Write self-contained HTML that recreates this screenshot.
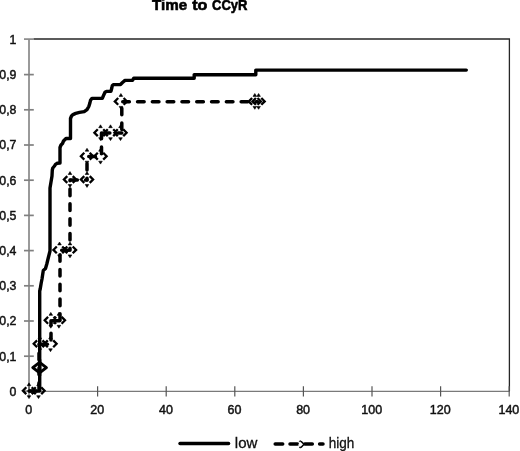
<!DOCTYPE html>
<html><head><meta charset="utf-8"><title>Time to CCyR</title>
<style>
html,body{margin:0;padding:0;background:#fff;}
body{width:520px;height:451px;overflow:hidden;font-family:"Liberation Sans",sans-serif;}
svg{display:block;filter:grayscale(100%);}
</style></head>
<body>
<svg width="520" height="451" viewBox="0 0 520 451">
<rect width="520" height="451" fill="#fff"/>
<text x="152.00" y="10.1" font-family="Liberation Sans" font-weight="bold" font-size="15.4" fill="#000" stroke="#000" stroke-width="0.6" textLength="35.20" lengthAdjust="spacingAndGlyphs">Time</text>
<text x="192.20" y="10.1" font-family="Liberation Sans" font-weight="bold" font-size="15.4" fill="#000" stroke="#000" stroke-width="0.6" textLength="15.20" lengthAdjust="spacingAndGlyphs">to</text>
<text x="212.00" y="10.1" font-family="Liberation Sans" font-weight="bold" font-size="15.4" fill="#000" stroke="#000" stroke-width="0.6" textLength="35.50" lengthAdjust="spacingAndGlyphs">CCyR</text>
<path d="M33.5,39 H509.4 V391.4" fill="none" stroke="#262626" stroke-width="1.3"/>
<line x1="29" y1="39" x2="29" y2="391.4" stroke="#9a9a9a" stroke-width="2"/>
<line x1="28" y1="391.4" x2="509.4" y2="391.4" stroke="#7a7a7a" stroke-width="1.4"/>
<line x1="24" y1="391.1" x2="33.8" y2="391.1" stroke="#808080" stroke-width="1.7"/>
<line x1="24" y1="356.2" x2="33.8" y2="356.2" stroke="#808080" stroke-width="1.7"/>
<line x1="24" y1="321.0" x2="33.8" y2="321.0" stroke="#808080" stroke-width="1.7"/>
<line x1="24" y1="285.8" x2="33.8" y2="285.8" stroke="#808080" stroke-width="1.7"/>
<line x1="24" y1="250.6" x2="33.8" y2="250.6" stroke="#808080" stroke-width="1.7"/>
<line x1="24" y1="215.4" x2="33.8" y2="215.4" stroke="#808080" stroke-width="1.7"/>
<line x1="24" y1="180.2" x2="33.8" y2="180.2" stroke="#808080" stroke-width="1.7"/>
<line x1="24" y1="145.0" x2="33.8" y2="145.0" stroke="#808080" stroke-width="1.7"/>
<line x1="24" y1="109.8" x2="33.8" y2="109.8" stroke="#808080" stroke-width="1.7"/>
<line x1="24" y1="74.6" x2="33.8" y2="74.6" stroke="#808080" stroke-width="1.7"/>
<line x1="24" y1="39.1" x2="33.8" y2="39.1" stroke="#8a8a8a" stroke-width="1.7"/>
<line x1="29.0" y1="386.2" x2="29.0" y2="396.4" stroke="#555" stroke-width="1.2"/>
<line x1="97.6" y1="386.2" x2="97.6" y2="396.4" stroke="#555" stroke-width="1.2"/>
<line x1="166.2" y1="386.2" x2="166.2" y2="396.4" stroke="#555" stroke-width="1.2"/>
<line x1="234.8" y1="386.2" x2="234.8" y2="396.4" stroke="#555" stroke-width="1.2"/>
<line x1="303.4" y1="386.2" x2="303.4" y2="396.4" stroke="#555" stroke-width="1.2"/>
<line x1="372.0" y1="386.2" x2="372.0" y2="396.4" stroke="#555" stroke-width="1.2"/>
<line x1="440.6" y1="386.2" x2="440.6" y2="396.4" stroke="#555" stroke-width="1.2"/>
<line x1="509.2" y1="386.2" x2="509.2" y2="396.4" stroke="#555" stroke-width="1.2"/>
<text x="16.4" y="395.7" text-anchor="end" font-family="Liberation Sans" font-size="12.3" fill="#111" stroke="#111" stroke-width="0.45">0</text>
<text x="16.4" y="360.5" text-anchor="end" font-family="Liberation Sans" font-size="12.3" fill="#111" stroke="#111" stroke-width="0.45">0,1</text>
<text x="16.4" y="325.3" text-anchor="end" font-family="Liberation Sans" font-size="12.3" fill="#111" stroke="#111" stroke-width="0.45">0,2</text>
<text x="16.4" y="290.1" text-anchor="end" font-family="Liberation Sans" font-size="12.3" fill="#111" stroke="#111" stroke-width="0.45">0,3</text>
<text x="16.4" y="254.9" text-anchor="end" font-family="Liberation Sans" font-size="12.3" fill="#111" stroke="#111" stroke-width="0.45">0,4</text>
<text x="16.4" y="219.7" text-anchor="end" font-family="Liberation Sans" font-size="12.3" fill="#111" stroke="#111" stroke-width="0.45">0,5</text>
<text x="16.4" y="184.5" text-anchor="end" font-family="Liberation Sans" font-size="12.3" fill="#111" stroke="#111" stroke-width="0.45">0,6</text>
<text x="16.4" y="149.3" text-anchor="end" font-family="Liberation Sans" font-size="12.3" fill="#111" stroke="#111" stroke-width="0.45">0,7</text>
<text x="16.4" y="114.1" text-anchor="end" font-family="Liberation Sans" font-size="12.3" fill="#111" stroke="#111" stroke-width="0.45">0,8</text>
<text x="16.4" y="78.9" text-anchor="end" font-family="Liberation Sans" font-size="12.3" fill="#111" stroke="#111" stroke-width="0.45">0,9</text>
<text x="16.4" y="43.7" text-anchor="end" font-family="Liberation Sans" font-size="12.3" fill="#111" stroke="#111" stroke-width="0.45">1</text>
<text x="28.7" y="413.6" text-anchor="middle" font-family="Liberation Sans" font-size="12.5" fill="#111" stroke="#111" stroke-width="0.45">0</text>
<text x="97.3" y="413.6" text-anchor="middle" font-family="Liberation Sans" font-size="12.5" fill="#111" stroke="#111" stroke-width="0.45">20</text>
<text x="165.9" y="413.6" text-anchor="middle" font-family="Liberation Sans" font-size="12.5" fill="#111" stroke="#111" stroke-width="0.45">40</text>
<text x="234.5" y="413.6" text-anchor="middle" font-family="Liberation Sans" font-size="12.5" fill="#111" stroke="#111" stroke-width="0.45">60</text>
<text x="303.1" y="413.6" text-anchor="middle" font-family="Liberation Sans" font-size="12.5" fill="#111" stroke="#111" stroke-width="0.45">80</text>
<text x="371.7" y="413.6" text-anchor="middle" font-family="Liberation Sans" font-size="12.5" fill="#111" stroke="#111" stroke-width="0.45">100</text>
<text x="440.3" y="413.6" text-anchor="middle" font-family="Liberation Sans" font-size="12.5" fill="#111" stroke="#111" stroke-width="0.45">120</text>
<text x="508.9" y="413.6" text-anchor="middle" font-family="Liberation Sans" font-size="12.5" fill="#111" stroke="#111" stroke-width="0.45">140</text>
<path d="M29.0,391.1 L39.7,391.1 L39.7,291.0 L40.2,289.0 L41.2,283.0 L42.0,279.0 L42.6,275.0 L43.3,270.5 L45.5,268.5 L46.8,264.0 L48.0,259.0 L49.0,255.0 L50.0,251.0 L50.0,188.0 L51.0,182.0 L52.0,176.0 L52.3,170.0 L52.8,168.0 L54.5,166.0 L55.5,164.3 L57.0,163.3 L60.0,163.0 L60.0,147.5 L61.0,145.0 L62.5,143.5 L63.5,141.0 L65.0,139.5 L66.0,138.5 L70.5,138.5 L70.5,118.5 L71.5,116.0 L73.0,114.6 L75.7,113.4 L79.5,112.4 L84.2,111.6 L87.0,109.6 L88.8,106.5 L89.9,103.0 L90.5,100.3 L92.0,98.4 L102.3,98.3 L103.5,95.5 L105.0,92.3 L106.5,91.4 L111.0,91.2 L111.8,88.0 L112.3,85.5 L113.5,84.6 L120.5,84.5 L122.5,82.5 L125.0,80.4 L132.5,80.3 L133.8,78.1 L194.2,78.2 L194.2,74.6 L255.8,74.8 L255.8,70.1 L466.3,70.1" fill="none" stroke="#000" stroke-width="3.4" stroke-linejoin="round" stroke-linecap="round"/>
<path d="M29.0,391.1 L39.0,391.1" fill="none" stroke="#000" stroke-width="3.5" stroke-linecap="round" stroke-dasharray="6.6 8.2" stroke-dashoffset="14.05"/>
<path d="M39.0,391.1 L39.0,344.2" fill="none" stroke="#000" stroke-width="3.5" stroke-linecap="round" stroke-dasharray="6.6 8.2" stroke-dashoffset="13.05"/>
<path d="M39.0,344.2 L51.0,344.2" fill="none" stroke="#000" stroke-width="3.5" stroke-linecap="round" stroke-dasharray="6.6 8.2" stroke-dashoffset="13.05"/>
<path d="M51.0,344.2 L51.0,320.7" fill="none" stroke="#000" stroke-width="3.5" stroke-linecap="round" stroke-dasharray="6.6 8.2" stroke-dashoffset="10.55"/>
<path d="M51.0,320.7 L60.0,320.7" fill="none" stroke="#000" stroke-width="3.5" stroke-linecap="round" stroke-dasharray="6.6 8.2" stroke-dashoffset="13.05"/>
<path d="M60.0,320.7 L60.0,250.3" fill="none" stroke="#000" stroke-width="3.5" stroke-linecap="round" stroke-dasharray="6.6 8.2" stroke-dashoffset="14.55"/>
<path d="M60.0,250.3 L70.0,250.3" fill="none" stroke="#000" stroke-width="3.5" stroke-linecap="round" stroke-dasharray="6.6 8.2" stroke-dashoffset="13.05"/>
<path d="M70.0,250.3 L70.0,179.9" fill="none" stroke="#000" stroke-width="3.5" stroke-linecap="round" stroke-dasharray="6.6 8.2" stroke-dashoffset="4.55"/>
<path d="M70.0,179.9 L87.0,179.9" fill="none" stroke="#000" stroke-width="3.5" stroke-linecap="round" stroke-dasharray="6.6 8.2" stroke-dashoffset="14.05"/>
<path d="M87.0,179.9 L87.0,156.6" fill="none" stroke="#000" stroke-width="3.5" stroke-linecap="round" stroke-dasharray="6.6 8.2" stroke-dashoffset="4.95"/>
<path d="M87.0,156.6 L101.5,156.6" fill="none" stroke="#000" stroke-width="3.5" stroke-linecap="round" stroke-dasharray="6.6 8.2" stroke-dashoffset="13.05"/>
<path d="M101.5,156.6 L101.5,133.1" fill="none" stroke="#000" stroke-width="3.5" stroke-linecap="round" stroke-dasharray="6.6 8.2" stroke-dashoffset="11.85"/>
<path d="M101.5,133.1 L121.8,133.1" fill="none" stroke="#000" stroke-width="3.5" stroke-linecap="round" stroke-dasharray="6.6 8.2" stroke-dashoffset="13.05"/>
<path d="M121.8,133.1 L121.8,101.8" fill="none" stroke="#000" stroke-width="3.5" stroke-linecap="round" stroke-dasharray="6.6 8.2" stroke-dashoffset="11.25"/>
<path d="M121.8,101.8 L257.5,101.8" fill="none" stroke="#000" stroke-width="3.5" stroke-linecap="round" stroke-dasharray="6.6 8.2" stroke-dashoffset="13.85"/>
<path d="M26.3,387.3 L22.9,390.7 L26.3,394.1 M31.7,387.3 L35.1,390.7 L31.7,394.1 M35.8,387.3 L32.4,390.7 L35.8,394.1 M41.2,387.3 L44.6,390.7 L41.2,394.1 M37.1,340.4 L33.7,343.8 L37.1,347.2 M42.5,340.4 L45.9,343.8 L42.5,347.2 M47.8,340.4 L44.4,343.8 L47.8,347.2 M53.2,340.4 L56.6,343.8 L53.2,347.2 M48.1,316.9 L44.7,320.3 L48.1,323.7 M53.5,316.9 L56.9,320.3 L53.5,323.7 M56.2,316.9 L52.8,320.3 L56.2,323.7 M61.6,316.9 L65.0,320.3 L61.6,323.7 M56.8,246.5 L53.4,249.9 L56.8,253.3 M62.2,246.5 L65.6,249.9 L62.2,253.3 M67.3,246.5 L63.9,249.9 L67.3,253.3 M72.7,246.5 L76.1,249.9 L72.7,253.3 M67.3,176.1 L63.9,179.5 L67.3,182.9 M72.7,176.1 L76.1,179.5 L72.7,182.9 M84.3,176.1 L80.9,179.5 L84.3,182.9 M89.7,176.1 L93.1,179.5 L89.7,182.9 M84.3,152.8 L80.9,156.2 L84.3,159.6 M89.7,152.8 L93.1,156.2 L89.7,159.6 M97.8,152.8 L94.4,156.2 L97.8,159.6 M103.2,152.8 L106.6,156.2 L103.2,159.6 M97.8,129.3 L94.4,132.7 L97.8,136.1 M103.2,129.3 L106.6,132.7 L103.2,136.1 M107.8,129.3 L104.4,132.7 L107.8,136.1 M113.2,129.3 L116.6,132.7 L113.2,136.1 M117.8,129.3 L114.4,132.7 L117.8,136.1 M123.2,129.3 L126.6,132.7 L123.2,136.1 M118.2,98.0 L114.8,101.4 L118.2,104.8 M123.6,98.0 L127.0,101.4 L123.6,104.8 M252.1,98.0 L248.7,101.4 L252.1,104.8 M257.5,98.0 L260.9,101.4 L257.5,104.8 M255.9,98.0 L252.5,101.4 L255.9,104.8 M261.3,98.0 L264.7,101.4 L261.3,104.8" fill="none" stroke="#000" stroke-width="2.30" stroke-linejoin="miter" stroke-linecap="butt"/>
<path d="M27.2,385.7 L29.0,382.8 L30.8,385.7 Z M27.2,395.7 L29.0,398.6 L30.8,395.7 Z M36.7,385.7 L38.5,382.8 L40.3,385.7 Z M36.7,395.7 L38.5,398.6 L40.3,395.7 Z M38.0,338.8 L39.8,335.9 L41.6,338.8 Z M38.0,348.8 L39.8,351.7 L41.6,348.8 Z M48.7,338.8 L50.5,335.9 L52.3,338.8 Z M48.7,348.8 L50.5,351.7 L52.3,348.8 Z M49.0,315.3 L50.8,312.4 L52.6,315.3 Z M49.0,325.3 L50.8,328.2 L52.6,325.3 Z M57.1,315.3 L58.9,312.4 L60.7,315.3 Z M57.1,325.3 L58.9,328.2 L60.7,325.3 Z M57.7,244.9 L59.5,242.0 L61.3,244.9 Z M57.7,254.9 L59.5,257.8 L61.3,254.9 Z M68.2,244.9 L70.0,242.0 L71.8,244.9 Z M68.2,254.9 L70.0,257.8 L71.8,254.9 Z M68.2,174.5 L70.0,171.6 L71.8,174.5 Z M68.2,184.5 L70.0,187.4 L71.8,184.5 Z M85.2,174.5 L87.0,171.6 L88.8,174.5 Z M85.2,184.5 L87.0,187.4 L88.8,184.5 Z M85.2,151.2 L87.0,148.3 L88.8,151.2 Z M85.2,161.2 L87.0,164.1 L88.8,161.2 Z M98.7,151.2 L100.5,148.3 L102.3,151.2 Z M98.7,161.2 L100.5,164.1 L102.3,161.2 Z M98.7,127.7 L100.5,124.8 L102.3,127.7 Z M98.7,137.7 L100.5,140.6 L102.3,137.7 Z M108.7,127.7 L110.5,124.8 L112.3,127.7 Z M108.7,137.7 L110.5,140.6 L112.3,137.7 Z M118.7,127.7 L120.5,124.8 L122.3,127.7 Z M118.7,137.7 L120.5,140.6 L122.3,137.7 Z M119.1,96.4 L120.9,93.5 L122.7,96.4 Z M119.1,106.4 L120.9,109.3 L122.7,106.4 Z M253.0,96.4 L254.8,93.5 L256.6,96.4 Z M253.0,106.4 L254.8,109.3 L256.6,106.4 Z M256.8,96.4 L258.6,93.5 L260.4,96.4 Z M256.8,106.4 L258.6,109.3 L260.4,106.4 Z" fill="#000" stroke="#000" stroke-width="0.6" stroke-linejoin="round"/>
<path d="M39.6,362.4 L46.4,367.6 L39.6,372.8 L32.8,367.6 Z" fill="none" stroke="#000" stroke-width="3.0" stroke-linejoin="round"/>
<path d="M39.6,359.3 L39.6,375.9" fill="none" stroke="#000" stroke-width="3.4"/>
<line x1="180" y1="443.5" x2="228.6" y2="443.5" stroke="#000" stroke-width="3.4" stroke-linecap="round"/>
<text x="234.8" y="448" font-family="Liberation Sans" font-size="14.5" fill="#111" stroke="#111" stroke-width="0.3" textLength="22.6" lengthAdjust="spacingAndGlyphs">low</text>
<line x1="275.2" y1="444" x2="323" y2="444" stroke="#000" stroke-width="3.5" stroke-linecap="round" stroke-dasharray="7.5 7.3"/>
<path d="M300.4,441.9 L302.8,444.3 L300.4,446.7 L298.2,444.3 Z" fill="#fff"/>
<path d="M301.0,441.2 L304.0,444.3 L301.0,447.4" fill="none" stroke="#000" stroke-width="1.5"/>
<path d="M299.2,441.6 L300.2,440.4 L301.2,441.6 Z M299.2,447.0 L300.2,448.2 L301.2,447.0 Z" fill="#000" stroke="#000" stroke-width="0.6"/>
<text x="328.8" y="447.8" font-family="Liberation Sans" font-size="14.5" fill="#111" stroke="#111" stroke-width="0.3" textLength="25.6" lengthAdjust="spacingAndGlyphs">high</text>
</svg>
</body></html>
